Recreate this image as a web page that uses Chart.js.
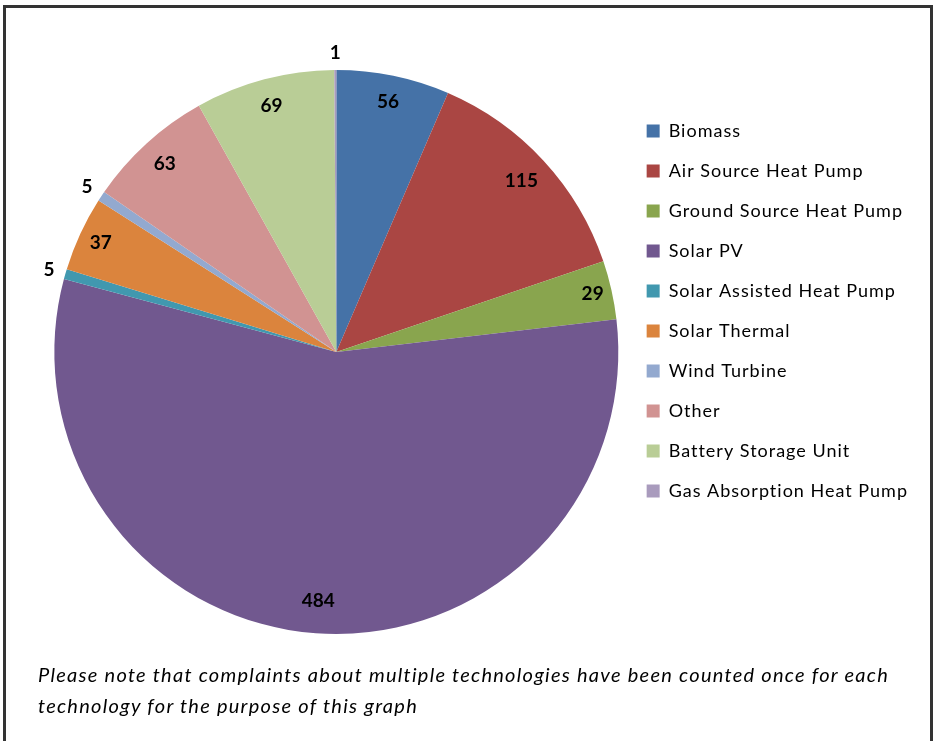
<!DOCTYPE html>
<html>
<head>
<meta charset="utf-8">
<script src="https://cdn.jsdelivr.net/npm/chart.js@4/dist/chart.umd.min.js"></script>
<style>
  html, body { margin: 0; padding: 0; background: #fff; }
  #wrap { position: relative; width: 934px; height: 741px; overflow: hidden; }
  #frame { position: absolute; left: 3px; top: 5px; width: 930px; height: 760px;
           border: 3px solid #333; box-sizing: border-box; }
  #c { position: absolute; left: 0; top: 0; }
  #note { position: absolute; left: 38px; top: 659px; width: 890px; white-space: nowrap;
          font-family: Lato, "Liberation Sans", sans-serif; font-style: italic;
          font-size: 20px; letter-spacing: 1.27px; line-height: 31px; color: #000; }
</style>
</head>
<body>
<div id="wrap">
  <div id="frame"></div>
  <canvas id="c" width="934" height="741"></canvas>
  <div id="note">Please note that complaints about multiple technologies have been counted once for each<br>technology for the purpose of this graph</div>
</div>
<script>
const categories = ["Biomass", "Air Source Heat Pump", "Ground Source Heat Pump", "Solar PV",
  "Solar Assisted Heat Pump", "Solar Thermal", "Wind Turbine", "Other",
  "Battery Storage Unit", "Gas Absorption Heat Pump"];
const complaints = [56, 115, 29, 484, 5, 37, 5, 63, 69, 1];
const sliceColors = ["#4572A7", "#AA4643", "#89A54E", "#71588F", "#4198AF",
  "#DB843D", "#93A9CF", "#D19392", "#B9CD96", "#A99BBD"];

const LEGEND_SPACING = '1px';
const spacingPlugin = {
  id: 'spacing',
  beforeLayout(chart) { chart.ctx.letterSpacing = LEGEND_SPACING; },
  afterLayout(chart) { chart.ctx.letterSpacing = '0px'; },
  beforeDraw(chart) { chart.ctx.letterSpacing = LEGEND_SPACING; },
  beforeDatasetsDraw(chart) { chart.ctx.letterSpacing = '0px'; }
};

const labelPlugin = {
  id: 'sliceLabels',
  afterDatasetsDraw(chart) {
    const ctx = chart.ctx;
    const meta = chart.getDatasetMeta(0);
    const data = chart.data.datasets[0].data;
    ctx.save();
    ctx.letterSpacing = '0px';
    ctx.font = 'bold 19px Lato, "Liberation Sans", sans-serif';
    ctx.fillStyle = '#000';
    ctx.textAlign = 'center';
    ctx.textBaseline = 'middle';
    meta.data.forEach((arc, i) => {
      const p = arc.getProps(['x', 'y', 'startAngle', 'endAngle', 'outerRadius'], true);
      const mid = (p.startAngle + p.endAngle) / 2;
      const v = data[i];
      let rr;
      if (v <= 5) rr = p.outerRadius + 17;
      else rr = p.outerRadius * Math.min(0.94, 0.88 + 1.5 / v);
      ctx.fillText(String(v), p.x + Math.cos(mid) * rr, p.y + Math.sin(mid) * rr);
    });
    ctx.restore();
  }
};

new Chart(document.getElementById('c'), {
  type: 'pie',
  data: {
    labels: categories,
    datasets: [{
      data: complaints,
      backgroundColor: sliceColors,
      borderWidth: 0,
      clip: false
    }]
  },
  options: {
    responsive: false,
    animation: false,
    layout: { padding: { left: 48, right: 16, top: 70, bottom: 107 } },
    plugins: {
      tooltip: { enabled: false },
      legend: {
        position: 'right',
        align: 'start',
        title: { display: true, text: ' ', font: { size: 10, lineHeight: 1 }, padding: { top: 20, bottom: 0 } },
        labels: {
          boxWidth: 13,
          boxHeight: 13,
          padding: 22,
          color: '#000',
          font: { family: 'Lato, "Liberation Sans", sans-serif', size: 18 }
        }
      }
    }
  },
  plugins: [spacingPlugin, labelPlugin]
});
</script>
</body>
</html>
